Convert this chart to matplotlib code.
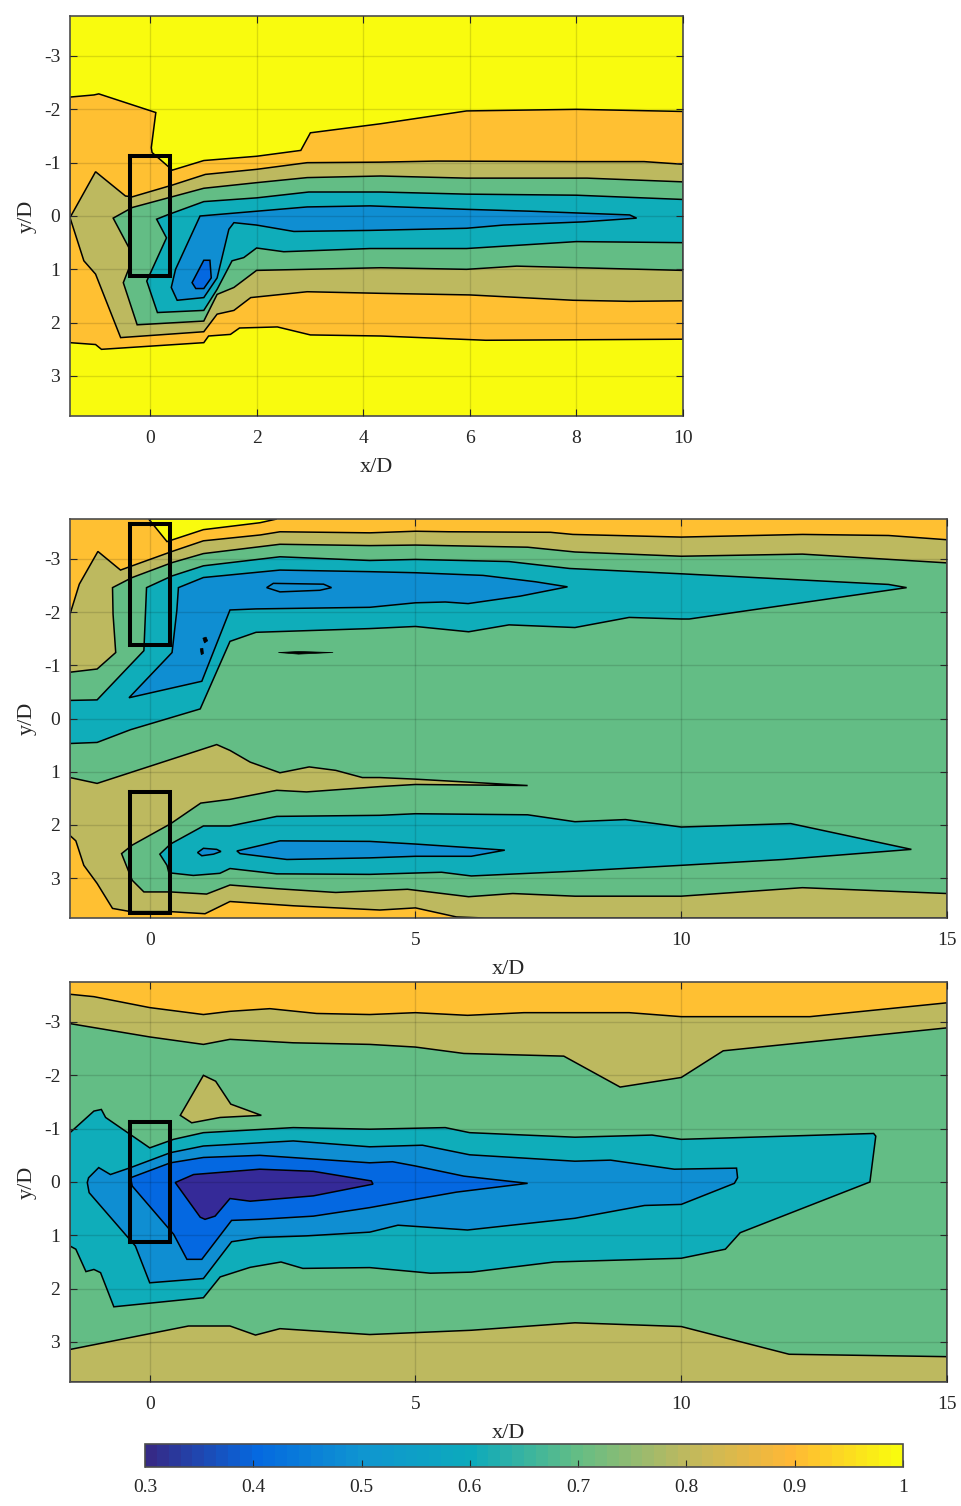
# three wake maps, contour outlines digitised in x/D, y/D
import numpy as np
import matplotlib
matplotlib.use('Agg')
import matplotlib.pyplot as plt
from matplotlib.colors import LinearSegmentedColormap, Normalize
from matplotlib.cm import ScalarMappable

plt.rcParams['font.family'] = ['Liberation Serif', 'DejaVu Serif']
plt.rcParams['axes.unicode_minus'] = False

# fill colour of each contour band
yellow = '#f9fb0e'
orange = '#ffc032'
olive = '#bdb95f'
green = '#63bd85'
teal = '#0fadba'
blue = '#0f8ed2'
royal = '#0468e1'
dark = '#352a98'

# colorbar
cb_values = [0.3, 0.4, 0.5, 0.6, 0.7, 0.8, 0.9, 1.0]
cb_colors = ['#352a87', '#0569e0', '#0f96d0', '#0caabc', '#63bd85', '#bdb95f', '#ffb835', '#f9fb0e']
cb_labels = ['0.3', '0.4', '0.5', '0.6', '0.7', '0.8', '0.9', '1']

# pipe outlines, x/D and y/D
box_x = [-0.375, 0.375]
box1_y = [-1.125, 1.125]
box2a_y = [-3.65, -1.38]
box2b_y = [1.38, 3.65]
box3_y = [-1.125, 1.125]

# panel 1
p1_orange = [(-1.5,-2.23),(-1.05,-2.27),(-0.96,-2.29),(0.11,-1.94),(0.025,-1.28),(0.04,-1.19),(0.26,-1.0),(0.42,-0.86),
    (1.01,-1.04),(2.0,-1.12),(2.83,-1.23),(3.01,-1.56),(4.33,-1.73),(5.94,-1.97),(8,-2.0),(10,-1.96),
    (10,2.31),(6.3,2.33),(4.33,2.25),(3.01,2.23),(2.39,2.08),(1.68,2.1),(1.51,2.22),(1.1,2.25),(1.01,2.375),
    (-0.91,2.5),(-1.02,2.41),(-1.5,2.375)]
p1_olive = [(-1.5,0.03),(-1.02,-0.83),(-0.46,-0.375),(-0.33,-0.36),(0.42,-0.58),(1.04,-0.78),(2.0,-0.875),(2.95,-1.0),
    (4.33,-1.01),(5.38,-1.03),(8,-1.02),(9.27,-1.02),(10,-0.97),(10,1.59),(9,1.6),(7.94,1.58),(6,1.48),(4.33,1.45),
    (2.95,1.42),(1.89,1.53),(1.575,1.77),(1.26,1.84),(1.01,2.17),(-0.55,2.28),(-1.02,1.09),(-1.24,0.84)]
p1_green = [(-0.69,0.04),(-0.33,-0.16),(1.01,-0.52),(2,-0.625),(2.95,-0.72),(4.33,-0.75),(5.94,-0.71),(8.2,-0.71),(10,-0.64),
    (10,1.02),(6.88,0.94),(5.94,1.0),(4.33,0.97),(2.0,1.02),(1.575,1.34),(1.26,1.47),(1.01,1.97),(-0.24,2.04),(-0.5,1.25),
    (-0.39,0.97),(-0.36,0.66)]
p1_teal = [(0.125,0.06),(0.325,-0.02),(1.01,-0.27),(2,-0.34),(2.98,-0.45),(4.33,-0.45),(5.94,-0.41),(8,-0.39),(10,-0.31),
    (10,0.5),(8,0.48),(5.94,0.61),(4.13,0.61),(2.51,0.67),(2,0.6),(1.76,0.78),(1.54,0.84),(1.26,1.375),(1.01,1.77),
    (0.14,1.81),(-0.06,1.22),(0.31,0.41)]
p1_blue = [(0.94,0),(2.95,-0.17),(4.13,-0.19),(5.94,-0.125),(7.13,-0.09),(9.0,-0.02),(9.13,0.04),(8.13,0.11),(6.63,0.17),
    (5.94,0.23),(4.13,0.27),(2.7,0.29),(2,0.17),(1.575,0.125),(1.48,0.25),(1.26,1.16),(1.01,1.53),(0.51,1.58),(0.4,1.34),(0.48,1.0)]
p1_royal = [(1.01,0.83),(1.125,0.83),(1.15,1.16),(1.01,1.36),(0.86,1.36),(0.79,1.25)]

# panel 2
p2_yellow = [(-0.02,-3.75),(0.325,-3.325),(1.01,-3.55),(2.075,-3.68),(2.39,-3.75)]
p2_olive = [(-1.5,-1.96),(-1.325,-2.525),(-0.975,-3.14),(-0.55,-2.79),(-0.33,-2.87),(0.42,-3.14),(1.01,-3.34),(2.08,-3.45),
    (2.45,-3.51),(4.14,-3.49),(5,-3.52),(5.63,-3.51),(7.54,-3.5),(7.96,-3.46),(10,-3.41),(12.28,-3.46),(13.9,-3.44),(15,-3.36),
    (15,3.75),(6.3,3.75),(5.77,3.73),(5,3.56),(4.33,3.6),(2.7,3.52),(1.51,3.44),(1.04,3.67),(0.39,3.63),(-0.36,3.63),(-0.7,3.57),
    (-0.99,3.1),(-1.24,2.76),(-1.39,2.3),(-1.5,2.2)]
p2_green = [(-1.5,-0.87),(-0.99,-0.93),(-0.64,-1.24),(-0.69,-1.96),(-0.7,-2.46),(-0.33,-2.65),(0.42,-2.93),(1.01,-3.1),(2.45,-3.275),
    (4.14,-3.25),(5,-3.26),(7.11,-3.22),(8,-3.13),(10,-3.05),(12.28,-3.09),(15,-2.925),(15,3.29),(12.28,3.18),(10,3.34),(8,3.34),
    (6.83,3.29),(6,3.35),(4.85,3.21),(3.5,3.27),(2.4,3.2),(1.51,3.13),(1.07,3.3),(0.39,3.26),(-0.11,3.26),(-0.33,3.04),(-0.53,2.54),
    (-0.33,2.38),(0.39,1.98),(0.96,1.59),(1.51,1.52),(2.39,1.35),(2.95,1.38),(4.33,1.28),(5,1.24),(7.11,1.26),(5,1.14),(4.33,1.11),
    (4,1.11),(3.5,0.975),(3.0,0.91),(2.45,1.02),(1.89,0.82),(1.51,0.6),(1.26,0.49),(-0.99,1.22),(-1.5,1.11)]
p2_teal_a = [(-1.5,-0.34),(-0.99,-0.35),(-0.11,-1.275),(-0.06,-2.46),(0.42,-2.68),(1.01,-2.87),(2.45,-3.04),(4.14,-2.97),(5,-2.99),
    (6.76,-2.95),(7.9,-2.82),(10,-2.72),(13.9,-2.52),(14.24,-2.46),(10.15,-1.87),(10,-1.87),(9.02,-1.9),(8,-1.71),(6.76,-1.76),(6,-1.63),
    (5,-1.73),(4.14,-1.69),(2,-1.62),(1.51,-1.45),(0.95,-0.18),(-0.36,0.21),(-0.99,0.45),(-1.5,0.47)]
p2_blue_a = [(0.54,-2.46),(1.01,-2.65),(2.45,-2.79),(4.14,-2.76),(5,-2.74),(6.27,-2.69),(7.26,-2.57),(7.86,-2.475),(6.97,-2.3),(5.99,-2.16),
    (5.56,-2.19),(5,-2.175),(4.14,-2.09),(2,-2.06),(1.51,-2.04),(0.98,-0.7),(-0.39,-0.39),(0.42,-1.24),(0.51,-2.03)]
p2_inner = [(2.2,-2.46),(2.325,-2.54),(3.27,-2.525),(3.42,-2.46),(3.2,-2.41),(2.45,-2.38)]
p2_spot_a = [(1.0,-1.51),(1.06,-1.53),(1.09,-1.46),(1.03,-1.42)]
p2_spot_b = [(0.95,-1.31),(1.0,-1.32),(1.01,-1.22),(0.97,-1.2)]
p2_sliver = [(2.42,-1.24),(2.8,-1.26),(3.45,-1.24),(2.8,-1.21)]
p2_teal_b = [(0.19,2.55),(0.39,2.36),(1.01,2.02),(1.51,2.02),(2.39,1.84),(4.33,1.82),(5,1.79),(7.11,1.81),(8,1.94),(8.95,1.9),(10,2.04),
    (12.06,1.975),(14.33,2.46),(11.92,2.65),(10,2.76),(8,2.87),(6.05,2.96),(5.49,2.89),(4.14,2.93),(2.39,2.92),(1.51,2.82),(1.32,2.91),
    (0.82,2.95),(0.36,2.9),(0.325,2.76)]
p2_blue_b = [(1.64,2.49),(2.45,2.3),(4.14,2.31),(5,2.36),(6.05,2.43),(6.68,2.475),(6.05,2.59),(5,2.59),(4.14,2.62),(2.58,2.65),(1.7,2.54)]
p2_blue_c = [(0.9,2.52),(1.01,2.44),(1.26,2.46),(1.34,2.5),(1.2,2.55),(0.98,2.58)]

# panel 3
p3_olive = [(-1.5,-3.52),(-1.05,-3.475),(0,-3.27),(1.01,-3.14),(1.51,-3.2),(2.26,-3.25),(3.14,-3.16),(4.14,-3.14),(5,-3.175),(5.98,-3.125),
    (7.04,-3.175),(9.02,-3.175),(10,-3.1),(12.42,-3.1),(15,-3.36),(15,3.75),(-1.5,3.75)]
p3_green = [(-1.5,-2.97),(0,-2.72),(1.01,-2.58),(1.51,-2.675),(2.7,-2.61),(4.14,-2.58),(5,-2.53),(5.91,-2.41),(7.79,-2.36),(8.85,-1.78),
    (10,-1.96),(10.79,-2.46),(15,-2.89),(15,3.275),(12.03,3.23),(10,2.71),(8,2.64),(6.05,2.78),(4.14,2.86),(3.83,2.84),(2.45,2.75),
    (1.99,2.87),(1.51,2.7),(0.73,2.7),(-1.5,3.14)]
p3_island = [(1.01,-2.0),(1.24,-1.89),(1.525,-1.46),(2.1,-1.25),(1.325,-1.21),(0.79,-1.11),(0.575,-1.25)]
p3_teal = [(-1.5,-0.925),(-1.05,-1.33),(-0.91,-1.36),(-0.83,-1.21),(0,-0.64),(0.45,-0.8),(1.01,-0.925),(2.7,-1.02),(4.14,-0.99),(5.56,-1.02),
    (6.02,-0.925),(8,-0.84),(9.45,-0.88),(10,-0.8),(13.62,-0.91),(13.66,-0.86),(13.55,0),(11.11,0.95),(10.83,1.26),(10,1.43),(7.61,1.5),
    (6.05,1.69),(5.28,1.71),(4.14,1.605),(2.88,1.62),(2.47,1.5),(1.89,1.6),(1.325,1.78),(1.01,2.17),(-0.675,2.34),(-0.925,1.7),(-1.05,1.64),
    (-1.2,1.68),(-1.39,1.26),(-1.5,1.2)]
p3_blue = [(-1.175,0.01),(-1.15,-0.08),(-0.96,-0.27),(-0.74,-0.14),(-0.36,-0.27),(0.39,-0.55),(1.01,-0.675),(2.7,-0.77),(4.14,-0.66),(5.13,-0.69),
    (6.02,-0.51),(8,-0.39),(8.67,-0.41),(9.87,-0.24),(11.04,-0.26),(11.06,-0.08),(11,0.025),(10,0.42),(9.31,0.44),(8,0.68),(5.98,0.9),(4.67,0.81),
    (4.14,0.94),(2.95,1.01),(2.07,1.04),(1.54,1.12),(1.01,1.81),(0,1.89),(-0.27,1.2),(-1.14,0.2)]
p3_royal = [(-0.36,-0.08),(0.39,-0.36),(1.01,-0.46),(2.07,-0.5),(4.14,-0.36),(4.57,-0.38),(5,-0.3),(5.91,-0.11),(7.11,0.025),(5.77,0.19),(5,0.325),
    (4.14,0.48),(3.08,0.64),(2.07,0.7),(1.54,0.72),(0.98,1.45),(0.7,1.45),(0.45,0.98),(-0.33,0.075)]
p3_dark = [(0.48,0.01),(0.825,-0.14),(2.07,-0.24),(3.08,-0.2),(4.17,-0.02),(4.2,0.04),(3.08,0.26),(1.89,0.36),(1.51,0.31),(1.23,0.64),(1.04,0.7),(0.95,0.66)]

W, H = 962., 1506.

def band(ax, verts, col, lw=1.1):
    vx = [v[0] for v in verts]
    vy = [v[1] for v in verts]
    ax.fill(vx, vy, facecolor=col, edgecolor='k', linewidth=lw, zorder=1)

def setup(rect, xmax, xticks, base, boxes):
    l, t, r, b = rect
    ax = fig.add_axes([l/W, 1-b/H, (r-l)/W, (b-t)/H])
    ax.set_facecolor(base)
    ax.set_xlim(-1.5, xmax)
    ax.set_ylim(3.75, -3.75)
    ax.set_xticks(xticks)
    ax.set_yticks([-3, -2, -1, 0, 1, 2, 3])
    ax.tick_params(direction='in', length=5, width=0.8, top=True, right=True, color='0.15',
                   labelcolor='0.15', labelsize=14)
    ax.tick_params(axis='x', pad=10)
    ax.tick_params(axis='y', pad=7)
    ax.grid(True, color='k', alpha=0.13, linewidth=1.0)
    ax.set_axisbelow(False)
    for sp in ax.spines.values():
        sp.set_color('0.3')
        sp.set_linewidth(1.2)
    ax.set_xlabel('x/D', fontsize=16, color='0.15', labelpad=8)
    ax.set_ylabel('y/D', fontsize=16, color='0.15', labelpad=5)
    for by in boxes:
        ax.plot([box_x[0], box_x[1], box_x[1], box_x[0], box_x[0]], [by[0], by[0], by[1], by[1], by[0]],
                color='k', linewidth=2.9, zorder=5, solid_joinstyle='miter')
    return ax

fig = plt.figure(figsize=(9.62, 15.06), dpi=100)

# top panel
ax1 = setup((70, 16, 683, 416), 10, [0, 2, 4, 6, 8, 10], yellow, [box1_y])
band(ax1, p1_orange, orange)
band(ax1, p1_olive, olive)
band(ax1, p1_green, green)
band(ax1, p1_teal, teal)
band(ax1, p1_blue, blue)
band(ax1, p1_royal, royal)

# middle panel
ax2 = setup((70, 519, 947, 918), 15, [0, 5, 10, 15], orange, [box2a_y, box2b_y])
band(ax2, p2_yellow, yellow)
band(ax2, p2_olive, olive)
band(ax2, p2_green, green)
band(ax2, p2_teal_a, teal)
band(ax2, p2_blue_a, blue)
band(ax2, p2_inner, blue)
band(ax2, p2_spot_a, 'k', 0.5)
band(ax2, p2_spot_b, 'k', 0.5)
band(ax2, p2_sliver, 'k', 0.5)
band(ax2, p2_teal_b, teal)
band(ax2, p2_blue_b, blue)
band(ax2, p2_blue_c, blue)

# bottom panel
ax3 = setup((70, 982, 947, 1382), 15, [0, 5, 10, 15], orange, [box3_y])
band(ax3, p3_olive, olive)
band(ax3, p3_green, green)
band(ax3, p3_island, olive)
band(ax3, p3_teal, teal)
band(ax3, p3_blue, blue)
band(ax3, p3_royal, royal)
band(ax3, p3_dark, dark)

# colorbar
cmap = LinearSegmentedColormap.from_list('wake', [((v-0.3)/0.7, c) for v, c in zip(cb_values, cb_colors)], N=64)
cax = fig.add_axes([145/W, 1-1467/H, (903-145)/W, 23/H])
cb = fig.colorbar(ScalarMappable(Normalize(0.3, 1.0), cmap), cax=cax, orientation='horizontal')
cb.set_ticks(cb_values)
cb.set_ticklabels(cb_labels)
cb.ax.tick_params(direction='in', length=5, width=0.8, color='0.15', labelcolor='0.15', labelsize=14, pad=9)
cb.outline.set_edgecolor('0.3')
cb.outline.set_linewidth(1.2)

fig.savefig('out.png', dpi=100)
